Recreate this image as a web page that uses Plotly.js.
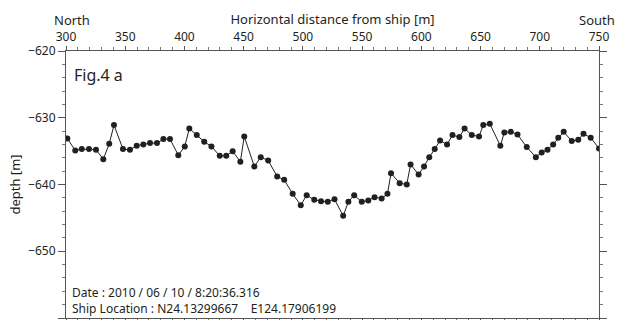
<!DOCTYPE html>
<html>
<head>
<meta charset="utf-8">
<script src="https://cdn.plot.ly/plotly-3.0.1.min.js"></script>
<style>html,body{margin:0;padding:0;background:#fff;}#chart{width:617px;height:320px;}</style>
</head>
<body>
<div id="chart"></div>
<script>
const distance = [301.1,307.8,313.3,319.4,325.3,331.5,336.5,340.5,348.1,354.0,
  359.7,365.3,370.9,376.8,382.2,387.8,394.8,400.3,404.1,410.4,
  416.7,422.8,429.8,435.3,440.7,447.2,450.5,459.0,464.4,470.7,
  478.3,484.2,491.4,498.2,503.2,509.6,515.3,521.0,526.7,534.0,
  538.4,543.3,549.7,555.2,560.5,566.5,571.4,574.4,581.7,587.7,
  590.9,597.7,602.3,606.7,611.3,615.8,621.7,626.3,632.1,636.5,
  642.6,648.7,652.3,657.8,666.7,670.1,675.5,681.2,689.0,696.7,
  701.6,706.5,711.3,715.6,720.2,727.0,732.5,736.9,743.0,750.0];
const depth = [-633.1,-634.9,-634.7,-634.7,-634.8,-636.2,-633.9,-631.1,-634.7,-634.8,
  -634.2,-634.0,-633.8,-633.8,-633.2,-633.2,-635.6,-634.3,-631.6,-632.6,
  -633.6,-634.3,-635.7,-635.7,-635.0,-636.6,-632.8,-637.3,-635.9,-636.4,
  -638.8,-639.3,-641.4,-643.1,-641.6,-642.3,-642.5,-642.6,-642.2,-644.7,
  -642.6,-641.6,-642.6,-642.4,-641.9,-642.1,-641.4,-638.3,-639.8,-640.0,
  -637.0,-638.5,-637.3,-635.9,-634.7,-633.4,-634.0,-632.6,-632.9,-631.6,
  -632.6,-632.8,-631.1,-630.9,-634.2,-632.2,-632.1,-632.5,-634.4,-635.9,
  -635.2,-634.8,-634.0,-633.0,-632.1,-633.5,-633.3,-632.4,-633.0,-634.6];
const xTitle = 'Horizontal distance from ship [m]';
const yTitle = 'depth [m]';
const figLabel = 'Fig.4 a';
const dateText = 'Date : 2010 / 06 / 10 / 8:20:36.316';
const shipText = 'Ship Location : N24.13299667&nbsp;&nbsp;&nbsp;&nbsp;E124.17906199';

const txt = '#231f20';
const font = {family: '"Noto Sans", "Open Sans", sans-serif', size: 12, color: txt};

const trace = {
  x: distance, y: depth, type: 'scatter', mode: 'lines+markers',
  line: {color: '#231f20', width: 1},
  marker: {color: '#231f20', size: 6},
  cliponaxis: true, showlegend: false
};

const layout = {
  width: 617, height: 320,
  margin: {l: 66, r: 18, t: 51, b: 2},
  paper_bgcolor: '#fff', plot_bgcolor: '#fff',
  font: font,
  xaxis: {
    side: 'top', range: [300, 750], dtick: 50, tick0: 300,
    showgrid: false, zeroline: false,
    showline: true, linecolor: '#555', linewidth: 1, mirror: 'ticks',
    ticks: 'outside', ticklen: 4, tickcolor: '#555',
    minor: {dtick: 10, ticks: 'outside', ticklen: 3, tickcolor: '#777'},
    tickfont: {size: 12, color: txt},
    title: {text: xTitle, font: {size: 13, color: txt}, standoff: 0}
  },
  yaxis: {
    range: [-660, -620], dtick: 10, tick0: -660,
    showgrid: false, zeroline: false,
    showline: true, linecolor: '#555', linewidth: 1, mirror: 'ticks',
    ticks: 'outside', ticklen: 7, tickcolor: '#555',
    minor: {dtick: 2, ticks: 'outside', ticklen: 3, tickcolor: '#777'},
    tickfont: {size: 12, color: txt},
    title: {text: yTitle, font: {size: 13, color: txt}, standoff: 4}
  },
  annotations: [
    {text: 'North', xref: 'paper', yref: 'paper', x: -0.026, y: 1.0, yshift: 31,
     xanchor: 'left', yanchor: 'middle', showarrow: false, font: {size: 13, color: txt}},
    {text: 'South', xref: 'paper', yref: 'paper', x: 1.0, y: 1.0, xshift: 18, yshift: 31,
     xanchor: 'right', yanchor: 'middle', showarrow: false, font: {size: 13, color: txt}},
    {text: figLabel, xref: 'paper', yref: 'paper', x: 0.012, y: 0.91,
     xanchor: 'left', yanchor: 'middle', showarrow: false, font: {size: 16, color: txt}},
    {text: dateText + '<br>' + shipText, xref: 'paper', yref: 'paper', x: 0.008, y: 0.065,
     xanchor: 'left', yanchor: 'middle', align: 'left', showarrow: false,
     font: {size: 12, color: txt}}
  ]
};

Plotly.newPlot('chart', [trace], layout, {displayModeBar: false, staticPlot: true});
</script>
</body>
</html>
